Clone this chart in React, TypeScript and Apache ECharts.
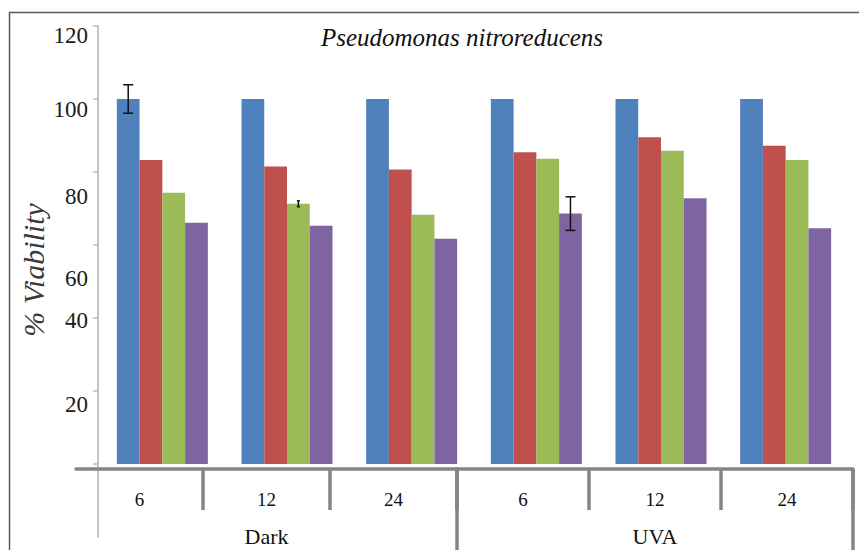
import React, { useEffect, useRef } from 'react';
import * as echarts from 'echarts';

// Exposure groups and time points (h)
const groupNames = ['Dark', 'UVA'];
const timeLabels = ['6', '12', '24'];
const categories = ['Dark 6', 'Dark 12', 'Dark 24', 'UVA 6', 'UVA 12', 'UVA 24'];

// % viability per treatment series
const seriesNames = ['Series 1', 'Series 2', 'Series 3', 'Series 4'];
const blueValues = [100, 100, 100, 100, 100, 100];
const redValues = [83.3, 81.5, 80.7, 85.4, 89.5, 87.2];
const greenValues = [74.3, 71.3, 68.3, 83.6, 85.8, 83.3];
const purpleValues = [66.1, 65.3, 61.7, 68.6, 72.8, 64.6];

// Standard deviations (0 = no error bar drawn)
const blueErrors = [3.9, 0, 0, 0, 0, 0];
const redErrors = [0, 0, 0, 0, 0, 0];
const greenErrors = [0, 0.8, 0, 0, 0, 0];
const purpleErrors = [0, 0, 0, 4.6, 0, 0];

const yTicks = [0, 20, 40, 60, 80, 100, 120];

const colors = ['#4F81BD', '#C0504D', '#9BBB59', '#8064A2'];
const SERIF = '"Liberation Serif", "Times New Roman", serif';
const AXIS_GRAY = '#858585';
const BAR_CATEGORY_GAP = 0.27;

// vertical nudge (px) of each y tick label
const labelNudge: Record<number, number> = { 0: 0, 20: 13, 40: 2, 60: 33, 80: 24, 100: 10, 120: 9 };

export default function App() {
  const ref = useRef<HTMLDivElement>(null);

  useEffect(() => {
    document.body.style.margin = '0';
    if (!ref.current) return;
    const chart = echarts.init(ref.current, null, { renderer: 'svg' });

    const values = [blueValues, redValues, greenValues, purpleValues];
    const errors = [blueErrors, redErrors, greenErrors, purpleErrors];

    const errData: number[][] = [];
    errors.forEach((arr, si) =>
      arr.forEach((e, ci) => {
        if (e > 0) errData.push([ci, values[si][ci], e, si]);
      })
    );

    const rich: Record<string, any> = {};
    yTicks.forEach((t) => {
      rich['v' + t] = {
        fontSize: 23,
        fontFamily: SERIF,
        color: '#1a1a1a',
        padding: [labelNudge[t] * 2, 0, 0, 0],
      };
    });

    const renderErrorBar = (params: any, api: any) => {
      const ci = api.value(0);
      const v = api.value(1);
      const e = api.value(2);
      const si = api.value(3);
      const band = api.size([1, 0])[0];
      const n = seriesNames.length;
      const bw = (band * (1 - BAR_CATEGORY_GAP)) / n;
      const c = api.coord([ci, v]);
      const x = c[0] + (si - (n - 1) / 2) * bw;
      const yTop = api.coord([ci, v + e])[1];
      const yBot = api.coord([ci, v - e])[1];
      const cap = (yBot - yTop) < 8 ? 1.5 : 5;
      const style = { stroke: '#111', lineWidth: 1.5 };
      return {
        type: 'group',
        children: [
          { type: 'line', shape: { x1: x, y1: yTop, x2: x, y2: yBot }, style },
          { type: 'line', shape: { x1: x - cap, y1: yTop, x2: x + cap, y2: yTop }, style },
          { type: 'line', shape: { x1: x - cap, y1: yBot, x2: x + cap, y2: yBot }, style },
        ],
      };
    };

    const levelAxis = (gridIndex: number, name: string, skipFirstTick: boolean) => ({
      type: 'category',
      gridIndex,
      data: timeLabels,
      axisLine: { show: true, onZero: false, lineStyle: { color: AXIS_GRAY, width: 3.5 } },
      axisTick: {
        show: true,
        length: 41,
        interval: skipFirstTick ? (i: number) => i > 0 : 0,
        lineStyle: { color: AXIS_GRAY, width: 3.5 },
      },
      axisLabel: { interval: 0, margin: 21, fontSize: 19, fontFamily: SERIF, color: '#111' },
      splitLine: { show: false },
      name,
      nameLocation: 'middle',
      nameGap: 56,
      nameTextStyle: { fontSize: 22, fontFamily: SERIF, color: '#111' },
    });

    const hiddenY = (gridIndex: number) => ({
      type: 'value',
      gridIndex,
      min: 0,
      max: 1,
      show: false,
      axisLine: { onZero: false },
    });

    chart.setOption({
      animation: false,
      backgroundColor: '#ffffff',
      grid: [
        { left: 100, right: 11, top: 26, bottom: 86 },
        { left: 76, width: 381, top: 400, bottom: 81 },
        { left: 457, right: 6, top: 400, bottom: 81 },
        { left: 457, right: 6, top: 400, bottom: 81 },
        { left: 98, width: 10, top: 26, bottom: 13 },
      ],
      xAxis: [
        { type: 'category', gridIndex: 0, data: categories, show: false },
        levelAxis(1, groupNames[0], true),
        levelAxis(2, groupNames[1], false),
        {
          type: 'value',
          gridIndex: 3,
          min: 0,
          max: 1,
          interval: 1,
          axisLine: { show: false, onZero: false },
          axisTick: { show: true, length: 90, lineStyle: { color: AXIS_GRAY, width: 3.5 } },
          axisLabel: { show: false },
          splitLine: { show: false },
        },
        { type: 'value', gridIndex: 4, show: false, axisLine: { onZero: false } },
      ],
      yAxis: [
        {
          type: 'value',
          gridIndex: 0,
          min: 0,
          max: 120,
          interval: 20,
          offset: 2,
          axisLine: { show: false },
          axisTick: { show: true, length: 5, lineStyle: { color: '#bdbdbd', width: 1.5 } },
          splitLine: { show: false },
          axisLabel: {
            margin: 10,
            formatter: (v: number) => (v === 0 ? '' : `{v${v}|${v}}`),
            rich,
          },
        },
        hiddenY(1),
        hiddenY(2),
        hiddenY(3),
        {
          type: 'value',
          gridIndex: 4,
          axisLine: { show: true, onZero: false, lineStyle: { color: '#c4c4c4', width: 2 } },
          axisTick: { show: false },
          axisLabel: { show: false },
          splitLine: { show: false },
        },
      ],
      series: [
        ...values.map((data, i) => ({
          type: 'bar',
          name: seriesNames[i],
          xAxisIndex: 0,
          yAxisIndex: 0,
          data,
          barGap: '0%',
          barCategoryGap: `${BAR_CATEGORY_GAP * 100}%`,
          itemStyle: { color: colors[i] },
        })),
        {
          type: 'custom',
          name: 'error',
          xAxisIndex: 0,
          yAxisIndex: 0,
          data: errData,
          encode: { x: 0, y: 1 },
          renderItem: renderErrorBar,
          z: 10,
        },
      ],
      graphic: [
        {
          type: 'polyline',
          shape: { points: [[9.5, 550], [9.5, 12.5], [859, 12.5]] },
          style: { stroke: '#5a5a5a', lineWidth: 1.5, fill: 'none' },
          silent: true,
        },
        {
          type: 'text',
          x: 462,
          y: 37,
          style: {
            text: 'Pseudomonas nitroreducens',
            font: `italic 25px ${SERIF}`,
            fill: '#111',
            align: 'center',
            verticalAlign: 'middle',
          },
        },
        {
          type: 'text',
          x: 33,
          y: 270,
          rotation: Math.PI / 2,
          style: {
            text: '% Viability',
            font: `italic 30px ${SERIF}`,
            fill: '#3a3a3a',
            align: 'center',
            verticalAlign: 'middle',
          },
        },
      ],
    });

    return () => chart.dispose();
  }, []);

  return <div ref={ref} style={{ width: 859, height: 550 }} />;
}
